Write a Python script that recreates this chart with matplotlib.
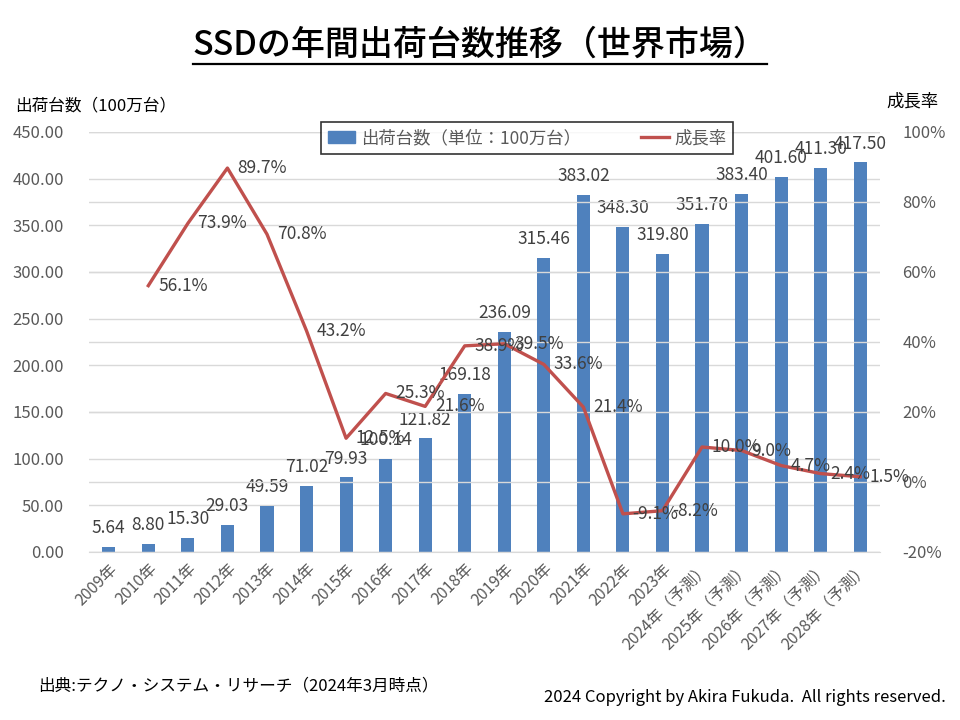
import numpy as np
import matplotlib
matplotlib.use("Agg")
import matplotlib.pyplot as plt
from matplotlib.lines import Line2D
from matplotlib.ticker import FuncFormatter, MultipleLocator

plt.rcParams['font.family'] = ['Noto Sans CJK JP', 'DejaVu Sans']

years = ["2009年", "2010年", "2011年", "2012年", "2013年", "2014年", "2015年",
         "2016年", "2017年", "2018年", "2019年", "2020年", "2021年", "2022年",
         "2023年", "2024年（予測）", "2025年（予測）", "2026年（予測）",
         "2027年（予測）", "2028年（予測）"]
shipments = [5.64, 8.80, 15.30, 29.03, 49.59, 71.02, 79.93, 100.14, 121.82,
             169.18, 236.09, 315.46, 383.02, 348.30, 319.80, 351.70, 383.40,
             401.60, 411.30, 417.50]
# growth rate (%), starts at 2010
growth = [56.1, 73.9, 89.7, 70.8, 43.2, 12.5, 25.3, 21.6, 38.9, 39.5, 33.6,
          21.4, -9.1, -8.2, 10.0, 9.0, 4.7, 2.4, 1.5]

bar_col = "#4F81BD"
line_col = "#C0504D"
txt_col = "#404040"
tick_col = "#595959"

fig = plt.figure(figsize=(9.6, 7.2), dpi=100)
ax = fig.add_axes([89/960, 1-552/720, (880-89)/960, (552-132)/720])
ax2 = ax.twinx()

x = np.arange(len(years))
ax.bar(x, shipments, width=0.33, color=bar_col, zorder=2)
ax.set_xlim(-0.5, len(years)-0.5)
ax.set_ylim(0, 450)
ax.yaxis.set_major_locator(MultipleLocator(50))
ax.yaxis.set_major_formatter(FuncFormatter(lambda v, p: "{:.2f}".format(v)))
ax.grid(axis="y", color="#D9D9D9", lw=1, zorder=0)
ax.set_axisbelow(True)

xl = x[1:]
ax2.plot(xl, growth, color=line_col, lw=2.4, zorder=3)
ax2.set_ylim(-20, 100)
ax2.yaxis.set_major_locator(MultipleLocator(20))
ax2.yaxis.set_major_formatter(FuncFormatter(lambda v, p: "{:.0f}%".format(v)))
ax2.grid(axis="y", color="#D9D9D9", lw=1, zorder=0)

for a in (ax, ax2):
    for s in a.spines.values():
        s.set_visible(False)
    a.tick_params(length=0, labelsize=12, labelcolor=tick_col)
ax.tick_params(axis="y", pad=18)
ax2.tick_params(axis="y", pad=16)
ax.spines["bottom"].set_visible(True)
ax.spines["bottom"].set_color("#D9D9D9")

ax.set_xticks(x)
ax.set_xticklabels(years, rotation=45, ha="right", va="top",
                   rotation_mode="anchor", fontsize=11.5, color=tick_col)
ax.tick_params(axis="x", pad=6)

# data labels
for xi, v in zip(x, shipments):
    ax.annotate("{:.2f}".format(v), (xi, v), xytext=(0, 7),
                textcoords="offset points", ha="center", va="bottom",
                fontsize=12.5, color=txt_col, zorder=5)
for xi, g in zip(xl, growth):
    ax2.annotate("{:.1f}%".format(g), (xi, g), xytext=(7, 0),
                 textcoords="offset points", ha="left", va="center",
                 fontsize=12.5, color=txt_col, zorder=5)
ax2.set_zorder(ax.get_zorder()+1)
ax2.patch.set_visible(False)

# legend
handles = [plt.Rectangle((0, 0), 1, 1, color=bar_col),
           Line2D([], [], color=line_col, lw=2.4)]
leg = fig.legend(handles, ["出荷台数（単位：100万台）", "成長率"], ncol=2,
                 loc="center", bbox_to_anchor=(527/960, 1-138/720),
                 frameon=True, fancybox=False, fontsize=12.5,
                 handlelength=1.6, columnspacing=3.5, borderpad=0.4,
                 handletextpad=0.3)
leg.get_frame().set_edgecolor("black")
leg.get_frame().set_linewidth(1.2)
for t in leg.get_texts():
    t.set_color(tick_col)

# axis titles
fig.text(15/960, 1-106/720, "出荷台数（100万台）", fontsize=12, color="black",
         ha="left", va="center")
fig.text(912/960, 1-101/720, "成長率", fontsize=12.5, color="black",
         ha="center", va="center")

# title with underline
title = fig.text(0.5, 1-45/720, "SSDの年間出荷台数推移（世界市場）",
                 fontsize=24.5, ha="center", va="center", color="black",
                 fontweight="medium")
fig.canvas.draw()
bb = title.get_window_extent().transformed(fig.transFigure.inverted())
fig.add_artist(Line2D([bb.x0, bb.x1], [bb.y0 - 0.002, bb.y0 - 0.002],
                      color="black", lw=1.6, transform=fig.transFigure))

fig.text(38/960, 1-686/720, "出典:テクノ・システム・リサーチ（2024年3月時点）",
         fontsize=12, ha="left", va="center", color="black")
fig.text(946/960, 1-697/720, "2024 Copyright by Akira Fukuda.  All rights reserved.",
         fontsize=12, ha="right", va="center", color="black")

fig.savefig("out.png", dpi=100)
